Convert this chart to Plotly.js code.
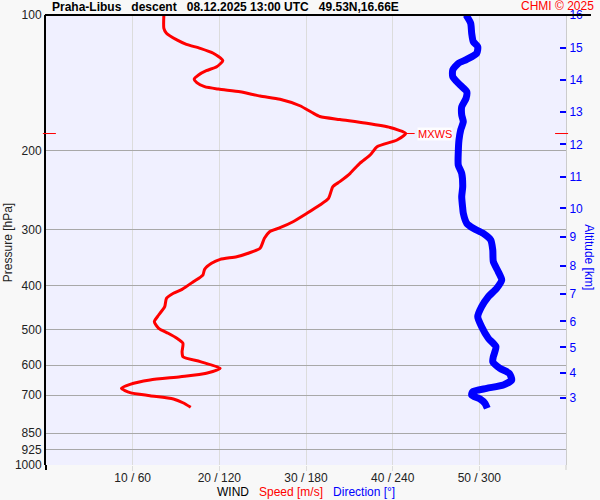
<!DOCTYPE html>
<html>
<head>
<meta charset="utf-8">
<script src="https://cdn.plot.ly/plotly-3.0.1.min.js"></script>
<style>html,body{margin:0;padding:0;background:#f8f8f8;}</style>
</head>
<body>
<div id="chart" style="width:600px;height:500px;"></div>
<script>
// Wind speed profile (m/s) vs pressure (hPa)
var speedValues = [13.6,13.6,13.9,15.1,16.2,17.8,19.3,20.4,19.7,18.5,17.6,17.1,17.4,18.3,19.9,22.4,24.7,27.0,29.3,30.7,31.6,33.9,36.8,39.7,41.5,40.5,38.2,37.4,36.2,35.1,33.9,33.1,32.6,31.6,30.1,28.5,27.0,25.8,25.2,24.7,23.5,22.0,20.1,19.1,18.3,18.1,17.0,15.7,14.7,13.9,13.7,13.0,12.5,13.0,14.1,15.1,15.8,15.7,15.8,17.8,20.1,18.5,15.5,12.0,9.7,8.7,9.7,12.0,14.7,15.8,16.7];
var speedPressure = [100,107.1,109.8,113.6,116.2,118.6,121.6,126.3,130.3,133.0,135.9,138.8,141.4,144.3,146.1,148.1,151.4,153.9,159.1,164.7,168.1,170.7,173.8,177.8,183.4,189.6,196.2,204.7,213.6,224.8,234.6,240.7,255.5,264.4,275.9,288.0,297.0,303.1,313.5,329.9,337.5,344.4,349.1,356.3,367.4,378.3,391.5,407.0,415.3,426.2,444.8,464.2,480.4,496.8,509.6,522.8,536.5,560.0,574.5,589.4,609.7,625.5,636.5,647.3,661.8,675.5,690.7,701.5,713.5,727.3,744.5];

// Wind direction profile (deg) vs pressure (hPa)
var dirValues = [290.8,294.0,294.7,295.8,298.9,298.2,291.3,285.4,281.6,281.6,286.6,291.3,290.8,287.8,287.8,288.9,287.1,285.9,285.4,285.4,287.8,288.5,287.8,288.5,288.9,291.3,295.8,302.7,307.9,309.3,309.7,313.1,315.5,312.0,306.2,301.6,298.9,301.6,306.2,311.5,309.7,309.3,314.3,320.7,322.4,316.6,305.1,295.4,294.7,300.5,303.9,305.5];
var dirPressure = [100,104.3,109.8,114.6,117.6,121.6,125.5,128.1,132.5,137.1,143.0,148.1,153.2,159.9,166.8,172.6,180.1,189.6,202.9,215.4,224.8,240.7,253.4,268.9,275.9,290.4,297.9,305.6,316.2,332.8,353.4,371.9,388.1,404.9,422.7,444.8,468.2,492.7,522.8,545.9,574.5,589.4,609.7,625.5,647.3,664.0,675.5,687.2,698.9,713.5,729.5,748.2];

// Axis ticks
var pressureTicks = [100,200,300,400,500,600,700,850,925,1000];
var speedTicks = [10,20,30,40,50];
var speedTickText = ["10 / 60","20 / 120","30 / 180","40 / 240","50 / 300"];
var altitudeLabels = ["3","4","5","6","7","8","9","10","11","12","13","14","15","16"];
var altitudePressure = [708.2,624.8,548.0,479.6,416.7,360.5,311.7,269.1,228.7,193.8,164.2,139.4,118.4,100];

// max wind
var iMax = 0;
for (var i = 1; i < speedValues.length; i++) if (speedValues[i] > speedValues[iMax]) iMax = i;
var maxS = speedValues[iMax], maxP = speedPressure[iMax];

var FONT = "Liberation Sans, Arial, sans-serif";

var traces = [
  {x: speedValues, y: speedPressure, xaxis: 'x', yaxis: 'y', mode: 'lines',
   line: {color: '#ff0000', width: 3, shape: 'spline', smoothing: 0.6}, hoverinfo: 'skip'},
  {x: dirValues, y: dirPressure, xaxis: 'x2', yaxis: 'y', mode: 'lines',
   line: {color: '#0000ff', width: 7, shape: 'spline', smoothing: 0.6}, hoverinfo: 'skip'},
  {x: [null], y: [null], xaxis: 'x', yaxis: 'y2', mode: 'lines', hoverinfo: 'skip'}
];

var layout = {
  width: 600, height: 500,
  margin: {l: 46, r: 34, t: 15, b: 35, pad: 0},
  paper_bgcolor: '#f8f8f8',
  plot_bgcolor: '#f0f0ff',
  showlegend: false,
  font: {family: FONT, size: 12, color: '#222'},
  xaxis: {range: [0, 60], tickvals: speedTicks, ticktext: speedTickText,
    showgrid: true, gridcolor: '#dcdcdc', gridwidth: 1, zeroline: false, showline: false,
    ticks: 'outside', ticklen: 5, tickcolor: '#dcdcdc', ticklabelstandoff: -3,
    tickfont: {size: 12, color: '#222'}, fixedrange: true},
  xaxis2: {range: [0, 360], overlaying: 'x', visible: false, fixedrange: true},
  yaxis: {type: 'log', range: [3, 2], tickvals: pressureTicks, ticktext: pressureTicks.map(String),
    showgrid: true, gridcolor: '#a8a8a8', gridwidth: 1, zeroline: false,
    showline: true, linecolor: '#000', linewidth: 2, ticks: '', tickfont: {size: 12, color: '#222'}, fixedrange: true},
  yaxis2: {type: 'log', range: [3, 2], overlaying: 'y', side: 'right', anchor: 'x',
    tickvals: altitudePressure, ticktext: altitudeLabels, showgrid: false, zeroline: false,
    showline: true, linecolor: '#cccccc', linewidth: 1,
    ticks: 'inside', ticklen: 6, tickwidth: 2, tickcolor: '#0000ff', tickfont: {size: 12, color: '#0000ff'}, fixedrange: true},
  shapes: [
    {type: 'line', xref: 'paper', yref: 'paper', x0: -0.002, x1: 1.048, y0: 1, y1: 1, line: {color: '#000', width: 2}},
    {type: 'line', xref: 'paper', yref: 'paper', x0: 0, x1: 0, y0: 0, y1: -0.011, line: {color: '#000', width: 2}},
    {type: 'line', xref: 'paper', yref: 'paper', x0: 1, x1: 1, y0: 0, y1: -0.011, line: {color: '#cccccc', width: 1}},
    {type: 'line', xref: 'paper', yref: 'y', x0: -0.006, x1: 0.019, y0: maxP, y1: maxP, line: {color: '#ff0000', width: 1}},
    {type: 'line', xref: 'paper', yref: 'y', x0: 0.979, x1: 1.004, y0: maxP, y1: maxP, line: {color: '#ff0000', width: 1}},
    {type: 'line', xref: 'x', yref: 'y', xsizemode: 'pixel', xanchor: maxS, x0: 0, x1: 9, y0: maxP, y1: maxP, line: {color: '#ff0000', width: 1}}
  ],
  annotations: [
    {xref: 'paper', yref: 'paper', x: 0.0077, y: 1.0178, xanchor: 'left', yanchor: 'middle', showarrow: false,
     text: '<b>Praha-Libus   descent   08.12.2025 13:00 UTC   49.53N,16.66E</b>', font: {family: FONT, size: 12, color: '#000'}},
    {xref: 'paper', yref: 'paper', x: 1.0577, y: 1.0205, xanchor: 'right', yanchor: 'middle', showarrow: false,
     text: 'CHMI © 2025', font: {family: FONT, size: 12, color: '#ff0000'}},
    {xref: 'paper', yref: 'paper', x: 0.5, y: -0.06, xanchor: 'center', yanchor: 'middle', showarrow: false,
     text: 'WIND   <span style="color:#ff0000">Speed [m/s]</span>   <span style="color:#0000ff">Direction [°]</span>',
     font: {family: FONT, size: 12, color: '#000'}},
    {xref: 'paper', yref: 'paper', x: -0.073, y: 0.493, xanchor: 'center', yanchor: 'middle', showarrow: false,
     textangle: -90, text: 'Pressure [hPa]', font: {family: FONT, size: 12, color: '#222'}},
    {xref: 'paper', yref: 'paper', x: 1.044, y: 0.462, xanchor: 'center', yanchor: 'middle', showarrow: false,
     textangle: 90, text: 'Altitude [km]', font: {family: FONT, size: 12, color: '#0000ff'}},
    {xref: 'x', yref: 'y', x: maxS, y: Math.log10(maxP), xshift: 11, xanchor: 'left', yanchor: 'middle', showarrow: false,
     text: 'MXWS', bgcolor: 'rgba(255,255,255,0.85)', borderpad: 0, font: {family: FONT, size: 11, color: '#ff0000'}}
  ]
};

Plotly.newPlot('chart', traces, layout, {displayModeBar: false, staticPlot: true});
</script>
</body>
</html>
